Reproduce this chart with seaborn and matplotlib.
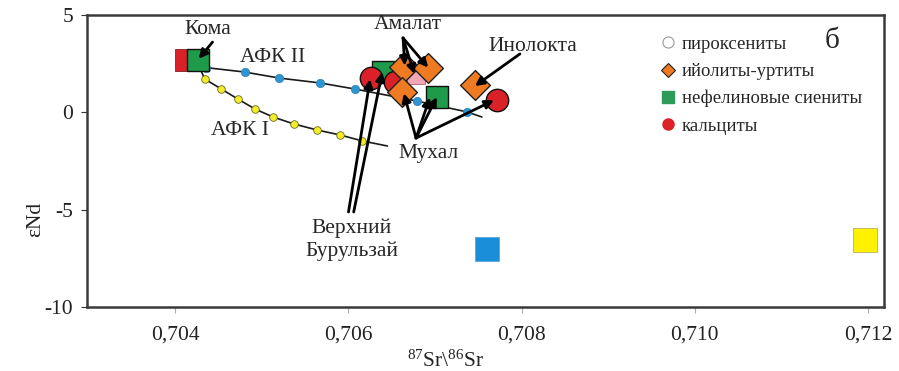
import matplotlib
matplotlib.use("Agg")
import matplotlib.pyplot as plt
from matplotlib.lines import Line2D
import seaborn as sns
import pandas as pd

sns.set_theme(style="white")
plt.rcParams["font.family"] = ["Liberation Serif", "DejaVu Serif"]
plt.rcParams["mathtext.fontset"] = "custom"
plt.rcParams["mathtext.rm"] = "Liberation Serif"
plt.rcParams["mathtext.it"] = "Liberation Serif:italic"
plt.rcParams["axes.unicode_minus"] = False

# --- data: 87Sr/86Sr vs eNd ---
# mixing curves
afk2_x = [0.70435, 0.70480, 0.70520, 0.70567, 0.70607, 0.70679, 0.70737, 0.70754]
afk2_y = [2.30, 2.07, 1.76, 1.51, 1.20, 0.58, 0.02, -0.24]
afk2_dots = [True, True, True, True, True, True, True, False]

afk1_x = [0.70428, 0.70434, 0.70453, 0.70472, 0.70492, 0.70513, 0.70537, 0.70564, 0.70590, 0.70616, 0.70645]
afk1_y = [2.30, 1.71, 1.20, 0.69, 0.17, -0.24, -0.60, -0.91, -1.16, -1.47, -1.73]
afk1_dots = [False, True, True, True, True, True, True, True, True, True, False]

# rock samples
syenite_x = [0.70426, 0.70640, 0.70702]
syenite_y = [2.69, 2.07, 0.79]
calcite_x = [0.70626, 0.70654, 0.70771]
calcite_y = [1.76, 1.56, 0.63]
ijolite_x = [0.70664, 0.70692, 0.70662, 0.70746]
ijolite_y = [2.35, 2.30, 1.05, 1.40]
pink_x = [0.70678]
pink_y = [1.92]
koma_red_x = [0.70412]
koma_red_y = [2.69]
blue_x = [0.70760]
blue_y = [-7.0]
yellow_x = [0.71197]
yellow_y = [-6.55]

xticks = [0.704, 0.706, 0.708, 0.710, 0.712]
xtick_labels = ["0,704", "0,706", "0,708", "0,710", "0,712"]
yticks = [5, 0, -5, -10]

legend_labels = ["пироксениты", "ийолиты-уртиты", "нефелиновые сиениты", "кальциты"]

C_ORANGE = "#EE7B22"
C_GREEN = "#1E9A4A"
C_RED = "#DA2128"
C_PINK = "#F2A7B7"
C_BLUE = "#1A8ED8"
C_YELLOW = "#FFF200"
C_LBLUE = "#2E95D3"
C_LYELLOW = "#F3EC2A"

fig = plt.figure(figsize=(8.99, 3.71), dpi=100)
ax = fig.add_axes([0.0968, 0.1725, 0.8865, 0.7871])

# curves
ax.plot(afk2_x, afk2_y, color="#1a1a1a", lw=1.2, zorder=2)
ax.plot(afk1_x, afk1_y, color="#1a1a1a", lw=1.2, zorder=2)
d2 = pd.DataFrame({"x": afk2_x, "y": afk2_y, "d": afk2_dots})
d1 = pd.DataFrame({"x": afk1_x, "y": afk1_y, "d": afk1_dots})
sns.scatterplot(data=d2[d2.d], x="x", y="y", ax=ax, color=C_LBLUE, s=36,
                edgecolor="#2a7fb8", linewidth=0.5, zorder=3, legend=False)
sns.scatterplot(data=d1[d1.d], x="x", y="y", ax=ax, color=C_LYELLOW, s=30,
                edgecolor="#6b6b20", linewidth=0.6, zorder=3, legend=False)


def pts(xs, ys, **kw):
    df = pd.DataFrame({"x": xs, "y": ys})
    sns.scatterplot(data=df, x="x", y="y", ax=ax, legend=False, **kw)


pts(koma_red_x, koma_red_y, marker="s", s=230, color=C_RED, edgecolor="#8a2020", linewidth=0.6, zorder=4)
pts(syenite_x, syenite_y, marker="s", s=270, color=C_GREEN, edgecolor="#111111", linewidth=1.0, zorder=5)
pts(calcite_x, calcite_y, marker="o", s=260, color=C_RED, edgecolor="#111111", linewidth=1.0, zorder=5)
pts(pink_x, pink_y, marker="s", s=150, color=C_PINK, edgecolor="#b06070", linewidth=0.6, zorder=4)
pts(ijolite_x, ijolite_y, marker="D", s=230, color=C_ORANGE, edgecolor="#222222", linewidth=1.0, zorder=6)
pts(blue_x, blue_y, marker="s", s=300, color=C_BLUE, edgecolor="#5aa8dc", linewidth=0.6, zorder=4)
pts(yellow_x, yellow_y, marker="s", s=300, color=C_YELLOW, edgecolor="#b9b060", linewidth=0.6, zorder=4)

# labels and arrows
fs = 15.5
arrow = dict(arrowstyle="-|>", color="black", lw=2.0, mutation_scale=13, shrinkA=0, shrinkB=0)


def arrows(tail, heads):
    for h in heads:
        ax.annotate("", xy=h, xytext=tail, arrowprops=arrow, zorder=8)


ax.text(0.70437, 4.23, "Кома", fontsize=fs, ha="center", va="center", zorder=9)
arrows((0.70443, 3.61), [(0.70427, 2.75)])

ax.text(0.70512, 2.84, "АФК II", fontsize=fs, ha="center", va="center", zorder=9)
ax.text(0.70475, -0.91, "АФК I", fontsize=fs, ha="center", va="center", zorder=9)

ax.text(0.70669, 4.50, "Амалат", fontsize=fs, ha="center", va="center", zorder=9)
arrows((0.70663, 3.82), [(0.70665, 2.40), (0.70676, 1.97), (0.70692, 2.30)])

ax.text(0.70813, 3.40, "Инолокта", fontsize=fs, ha="center", va="center", zorder=9)
arrows((0.70798, 3.00), [(0.70746, 1.35)])

ax.text(0.70692, -2.10, "Мухал", fontsize=fs, ha="center", va="center", zorder=9)
arrows((0.70678, -1.32), [(0.70664, 0.98), (0.70694, 0.76), (0.70702, 0.78), (0.70768, 0.62)])

ax.text(0.70604, -6.55, "Верхний\nБурульзай", fontsize=fs, ha="center", va="center",
        linespacing=1.25, zorder=9)
arrows((0.70600, -5.12), [(0.70625, 1.70)])
arrows((0.70606, -5.12), [(0.70639, 2.07)])

ax.text(0.71158, 3.65, "б", fontsize=21, ha="center", va="center")

# legend (two groups, second slightly lower)
h_pyr = Line2D([], [], marker="o", ls="", markersize=8, markerfacecolor="white",
               markeredgecolor="#999999", markeredgewidth=0.8)
h_ijo = Line2D([], [], marker="D", ls="", markersize=7, markerfacecolor=C_ORANGE,
               markeredgecolor="#222222", markeredgewidth=0.8)
h_sye = Line2D([], [], marker="s", ls="", markersize=8, markerfacecolor="#2E9A5A",
               markeredgecolor="#2E9A5A")
h_cal = Line2D([], [], marker="o", ls="", markersize=8, markerfacecolor=C_RED,
               markeredgecolor=C_RED)
leg_kw = dict(loc="upper left", frameon=False, fontsize=13.5, handletextpad=0.15,
              handlelength=1.2, labelspacing=0.55, borderaxespad=0)
leg1 = ax.legend([h_pyr, h_ijo], legend_labels[:2], bbox_to_anchor=(0.705, 0.955), **leg_kw)
ax.add_artist(leg1)
ax.legend([h_sye, h_cal], legend_labels[2:], bbox_to_anchor=(0.705, 0.77), **leg_kw)

# axes
ax.set_xlim(0.70298, 0.712185)
ax.set_ylim(-10, 5)
ax.set_xticks(xticks)
ax.set_xticklabels(xtick_labels)
ax.set_yticks(yticks)
ax.tick_params(axis="both", labelsize=15.5, colors="#333333", length=4, width=0.8,
               direction="out", bottom=True, left=True, pad=6)
ax.tick_params(axis="x", colors="#aaaaaa", labelcolor="#222222", pad=9)
ax.tick_params(axis="y", labelcolor="#222222")
for sp in ax.spines.values():
    sp.set_color("#3a3a3a")
    sp.set_linewidth(1.8)
ax.set_xlabel(r"$\mathrm{^{87}Sr\backslash^{86}Sr}$", fontsize=15.5, labelpad=2, color="#222222")
ax.set_ylabel("εNd", fontsize=15.5, color="#222222")
ax.yaxis.set_label_coords(-0.052, 0.30)
ax.xaxis.set_label_coords(0.45, -0.15)

fig.savefig("out.png", dpi=100)
